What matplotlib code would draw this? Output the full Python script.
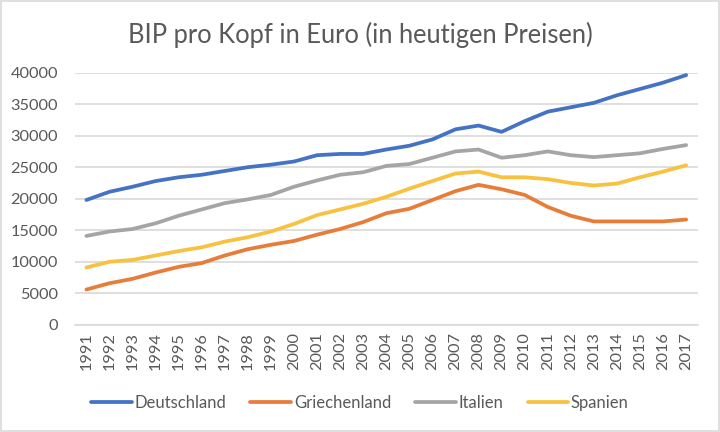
import numpy as np
import matplotlib
matplotlib.use("Agg")
import matplotlib.pyplot as plt
from matplotlib.patches import Rectangle

years = [str(y) for y in range(1991, 2018)]

deutschland = [19800, 21100, 21900, 22800, 23400, 23800, 24400, 25000, 25400, 25900,
               26900, 27100, 27100, 27800, 28400, 29400, 31000, 31600, 30600, 32300,
               33800, 34500, 35200, 36400, 37400, 38400, 39600]
griechenland = [5600, 6600, 7300, 8300, 9200, 9800, 11000, 12000, 12700, 13300,
                14300, 15200, 16300, 17700, 18400, 19800, 21200, 22200, 21500, 20600,
                18700, 17300, 16400, 16400, 16400, 16400, 16700]
italien = [14100, 14800, 15200, 16100, 17300, 18300, 19300, 19900, 20600, 21900,
           22900, 23800, 24200, 25200, 25500, 26500, 27500, 27800, 26500, 26900,
           27500, 26900, 26600, 26900, 27200, 27900, 28500]
spanien = [9100, 10000, 10300, 11000, 11700, 12300, 13200, 13900, 14800, 16000,
           17400, 18300, 19200, 20300, 21600, 22800, 24000, 24300, 23400, 23400,
           23100, 22500, 22100, 22400, 23400, 24300, 25300]

series = [("Deutschland", deutschland, "#4472C4"),
          ("Griechenland", griechenland, "#E87D3A"),
          ("Italien", italien, "#A5A5A5"),
          ("Spanien", spanien, "#F8C140")]

plt.rcParams['font.family'] = ['Lato', 'DejaVu Sans']
text_col = "#595959"
grid_col = "#D9D9D9"

fig = plt.figure(figsize=(7.2, 4.32), dpi=100)
ax = fig.add_axes([0.104, 0.248, 0.865, 0.584])

x = np.arange(len(years))
for name, vals, col in series:
    ax.plot(x, vals, color=col, lw=2.7, label=name, solid_capstyle='round')

ax.set_xlim(-0.5, len(years) - 0.5)
ax.set_ylim(0, 40000)
ax.set_yticks(range(0, 40001, 5000))
ax.set_xticks(x)
ax.set_xticklabels(years, rotation=90)
ax.grid(axis='y', color=grid_col, lw=1.2)
ax.set_axisbelow(True)
for s in ['top', 'right', 'left']:
    ax.spines[s].set_visible(False)
ax.spines['bottom'].set_color(grid_col)
ax.spines['bottom'].set_linewidth(1.2)
ax.tick_params(axis='both', length=0, labelsize=11.8, colors=text_col)
ax.tick_params(axis='y', pad=12)
ax.tick_params(axis='x', pad=5)

fig.text(0.5, 0.919, "BIP pro Kopf in Euro (in heutigen Preisen)", ha='center', va='center',
         fontsize=18.4, color=text_col)

fig.legend(loc='center', bbox_to_anchor=(0.5, 0.067), ncol=4, frameon=False,
           fontsize=12, labelcolor=text_col, handlelength=2.45, handletextpad=0.15,
           columnspacing=1.45)

fig.patches.append(Rectangle((0.002, 0.003), 0.996, 0.994, transform=fig.transFigure,
                             fill=False, edgecolor=grid_col, lw=1.2))

fig.savefig("out.png", dpi=100)
